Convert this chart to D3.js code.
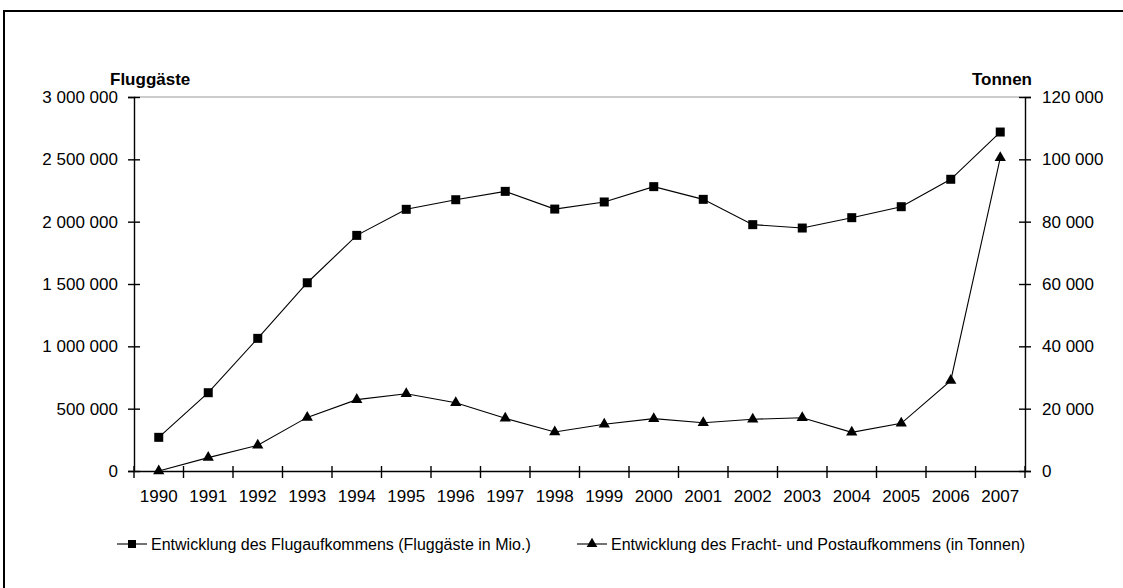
<!DOCTYPE html>
<html>
<head>
<meta charset="utf-8">
<script src="https://cdn.jsdelivr.net/npm/d3@7"></script>
<style>
	html, body { margin: 0; padding: 0; background: #fff; }
	svg { display: block; font-family: "Liberation Sans", Arial, sans-serif; }
	.axis text { font-size: 17px; fill: #000; }
	.axis path, .axis line { stroke: #000; stroke-width: 1.4; }
</style>
</head>
<body>
<svg id="chart"></svg>
<script>
;(() => {
	'use strict';

	const years = ['1990', '1991', '1992', '1993', '1994', '1995', '1996', '1997', '1998',
		'1999', '2000', '2001', '2002', '2003', '2004', '2005', '2006', '2007'];

	// Fluggäste (left axis)
	const passengers = [270000, 628000, 1064000, 1510000, 1890000, 2099000, 2176000, 2243000, 2101000,
		2158000, 2281000, 2179000, 1976000, 1949000, 2032000, 2120000, 2340000, 2719000];

	// Fracht- und Post in Tonnen (right axis)
	const cargo = [0, 4300, 8250, 17200, 22900, 24800, 21900, 16900, 12500,
		15000, 16800, 15500, 16600, 17100, 12400, 15300, 29000, 100500];

	const leftTicks = [0, 500000, 1000000, 1500000, 2000000, 2500000, 3000000],
		rightTicks = [0, 20000, 40000, 60000, 80000, 100000, 120000];

	const legendLabels = [
		'Entwicklung des Flugaufkommens (Fluggäste in Mio.)',
		'Entwicklung des Fracht- und Postaufkommens (in Tonnen)'
	];

	const width = 1123,
		height = 588,
		margin = {left: 134, right: 98, top: 97, bottom: 117},
		plotW = width - margin.left - margin.right,
		plotH = height - margin.top - margin.bottom;

	const svg = d3.select('#chart')
		.attr('width', width)
		.attr('height', height);

	// thousands separated by a space
	const fmt = (v) => d3.format(',')(v).replace(/,/g, '\u00a0');

	const x = d3.scaleBand().domain(years).range([0, plotW]),
		yLeft = d3.scaleLinear().domain([0, 3000000]).range([plotH, 0]),
		yRight = d3.scaleLinear().domain([0, 120000]).range([plotH, 0]);

	const cx = (d, i) => x(years[i]) + x.bandwidth() / 2;


	/**
	* outer frame of the figure
	* @returns {undefined}
	*/
	const drawFrame = function() {
		svg.append('rect')
			.attr('x', 4)
			.attr('y', 11)
			.attr('width', width + 20)
			.attr('height', height + 20)
			.attr('fill', 'none')
			.attr('stroke', '#000')
			.attr('stroke-width', 2);
	};


	/**
	* axes, with ticks crossing the axis lines like in the source
	* @returns {undefined}
	*/
	const drawAxes = function(g) {
		// thin grey top border of the plot area
		g.append('line')
			.attr('x1', 0).attr('x2', plotW)
			.attr('y1', yLeft(3000000)).attr('y2', yLeft(3000000))
			.attr('stroke', '#999').attr('stroke-width', 1);

		const left = g.append('g').attr('class', 'axis')
			.call(d3.axisLeft(yLeft).tickValues(leftTicks).tickFormat(fmt).tickSizeOuter(0).tickSize(6).tickPadding(10));
		left.selectAll('.tick line').attr('x2', 6).attr('x1', -6);

		const right = g.append('g').attr('class', 'axis')
			.attr('transform', `translate(${plotW},0)`)
			.call(d3.axisRight(yRight).tickValues(rightTicks).tickFormat(fmt).tickSizeOuter(0).tickSize(6).tickPadding(11));
		right.selectAll('.tick line').attr('x1', -6).attr('x2', 6);
		right.select('.domain').attr('stroke-width', 2.2);

		// category axis, ticks between the years
		const bottom = g.append('g').attr('class', 'axis')
			.attr('transform', `translate(0,${plotH})`)
			.call(d3.axisBottom(x).tickSize(0).tickSizeOuter(0).tickPadding(19));
		bottom.selectAll('.tick line').remove();
		bottom.select('.domain').attr('stroke-width', 1.6);
		bottom.selectAll('.sep')
			.data(d3.range(years.length + 1))
			.enter()
			.append('line')
			.attr('x1', (i) => i * x.step())
			.attr('x2', (i) => i * x.step())
			.attr('y1', -5)
			.attr('y2', 7)
			.attr('stroke', '#000')
			.attr('stroke-width', 1.4);

		svg.append('text')
			.attr('x', 110)
			.attr('y', 85)
			.attr('font-size', 17)
			.attr('font-weight', 'bold')
			.text('Fluggäste');

		svg.append('text')
			.attr('x', 1032)
			.attr('y', 85)
			.attr('text-anchor', 'end')
			.attr('font-size', 17)
			.attr('font-weight', 'bold')
			.text('Tonnen');
	};


	/**
	* one series: line plus marker
	* @returns {undefined}
	*/
	const drawSeries = function(g, values, y, symbolType, size) {
		const line = d3.line()
			.x(cx)
			.y((d) => y(d));

		g.append('path')
			.datum(values)
			.attr('d', line)
			.attr('fill', 'none')
			.attr('stroke', '#000')
			.attr('stroke-width', 1.1);

		g.selectAll(null)
			.data(values)
			.enter()
			.append('path')
			.attr('d', d3.symbol().type(symbolType).size(size))
			.attr('transform', (d, i) => `translate(${cx(d, i)},${y(d)})`)
			.attr('fill', '#000');
	};


	/**
	* legend below the chart
	* @returns {undefined}
	*/
	const drawLegend = function() {
		const items = [
			{x: 117, symbol: d3.symbolSquare, size: 64, label: legendLabels[0]},
			{x: 577, symbol: d3.symbolTriangle, size: 50, label: legendLabels[1]}
		];
		const ly = 544;

		const leg = svg.selectAll('.legend')
			.data(items)
			.enter()
			.append('g')
			.attr('class', 'legend')
			.attr('transform', (d) => `translate(${d.x},${ly})`);

		leg.append('line')
			.attr('x1', 0).attr('x2', 30)
			.attr('y1', 0).attr('y2', 0)
			.attr('stroke', '#000')
			.attr('stroke-width', 1.1);

		leg.append('path')
			.attr('d', (d) => d3.symbol().type(d.symbol).size(d.size)())
			.attr('transform', 'translate(15,0)')
			.attr('fill', '#000');

		leg.append('text')
			.attr('x', 34)
			.attr('y', 6)
			.attr('font-size', 16)
			.text((d) => d.label);
	};


	const init = function() {
		drawFrame();
		const g = svg.append('g')
			.attr('transform', `translate(${margin.left},${margin.top})`);
		drawAxes(g);
		drawSeries(g, passengers, yLeft, d3.symbolSquare, 81);
		drawSeries(g, cargo, yRight, d3.symbolTriangle, 55);
		drawLegend();
	};

	init();

})();
</script>
</body>
</html>
